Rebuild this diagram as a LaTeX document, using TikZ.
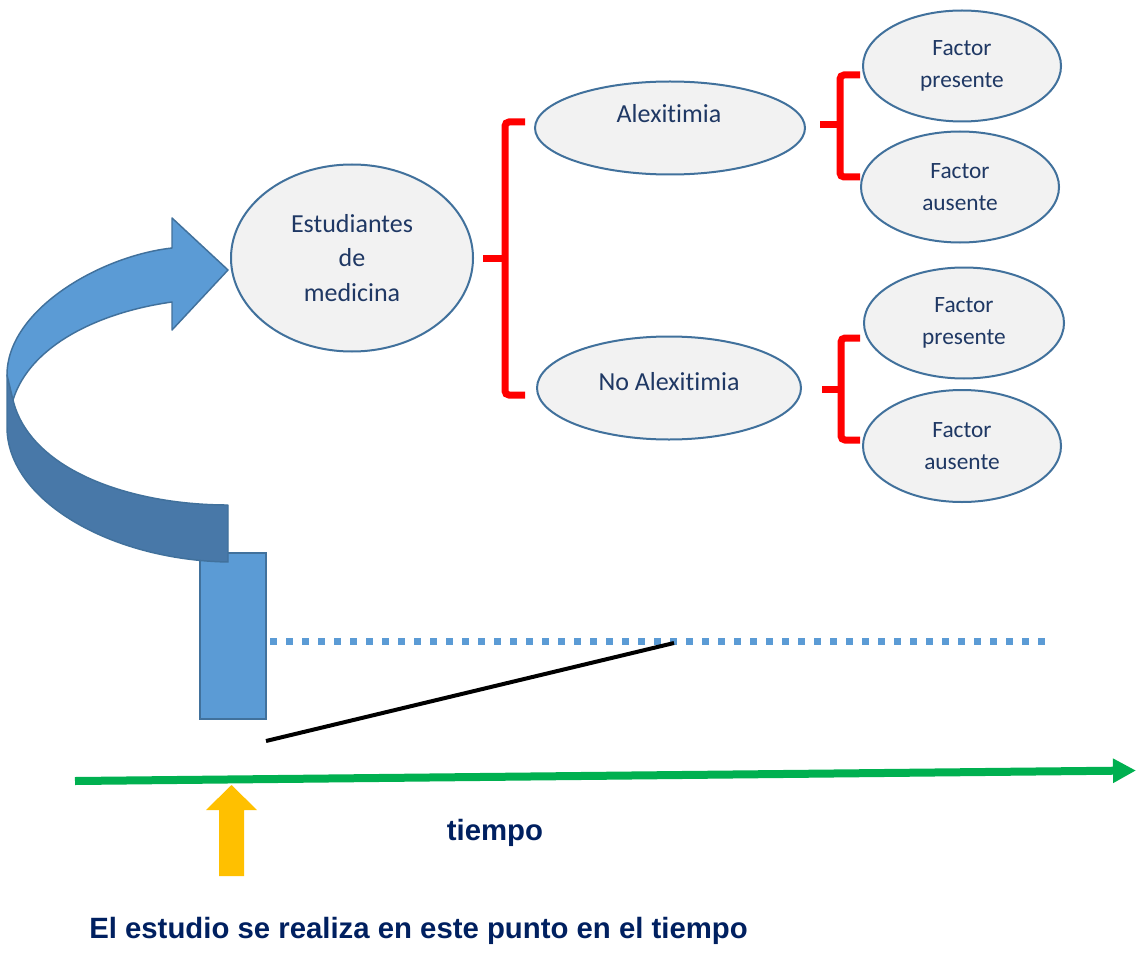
\documentclass[tikz,border=0pt]{standalone}
\usepackage{fontspec}
\setmainfont{Carlito}[Ligatures={NoCommon,NoRequired,NoContextual}]
\newfontfamily\arialfont{Liberation Sans}
\usetikzlibrary{shapes.geometric,arrows.meta}
\definecolor{ellfill}{HTML}{F2F2F2}
\definecolor{ellline}{HTML}{41719C}
\definecolor{navy}{HTML}{1F3864}
\definecolor{lightblue}{HTML}{5B9BD5}
\definecolor{darkblue}{HTML}{4878A8}
\definecolor{bracered}{HTML}{FF0000}
\definecolor{timegreen}{HTML}{00B050}
\definecolor{gold}{HTML}{FFC000}
\definecolor{titlenavy}{HTML}{002060}
\begin{document}
\begin{tikzpicture}[x=0.75pt,y=-0.75pt,
  oval/.style={ellipse, draw=ellline, line width=1.5pt, fill=ellfill, inner sep=0pt},
  ovaltext/.style={text=navy, align=center, inner sep=0pt, font=\fontsize{19.5}{26}\selectfont},
  factortext/.style={text=navy, align=center, inner sep=0pt, font=\fontsize{17.5}{23.5}\selectfont},
  brace/.style={draw=bracered, line width=5.25pt, rounded corners=3pt},
  boldtext/.style={text=titlenavy, inner sep=0pt, font=\arialfont\bfseries\fontsize{22}{26}\selectfont},
  shapeline/.style={draw=ellline, line width=1.1pt, line join=round}
]
\path[use as bounding box, fill=white] (0,0) rectangle (1137,952);

% bar and curved arrow
\node[draw=ellline, line width=1.5pt, fill=lightblue, minimum width=49.5pt, minimum height=124.5pt, inner sep=0pt] (bar) at (233,636) {};
\filldraw[shapeline, fill=darkblue] (7,375) -- (7,427) .. controls (7,500) and (110,560) .. (228,562) -- (228,505) .. controls (130,505) and (30,470) .. (13,400) -- cycle;
\filldraw[shapeline, fill=lightblue] (7,375) .. controls (7,310) and (100,256) .. (172,248) -- (172,218) -- (228,270) -- (172,330) -- (172,302) .. controls (100,312) and (30,345) .. (13,400) -- cycle;

% ellipses
\node[oval, minimum width=181.5pt, minimum height=140.25pt] (stud) at (352,258) {};
\node[ovaltext] (studt) at (stud.center) {Estudiantes\\de\\medicina};
\node[oval, minimum width=202.5pt, minimum height=69.75pt] (alex) at (670,128) {};
\node[ovaltext, anchor=base] (alext) at (669,123) {Alexitimia};
\node[oval, minimum width=198pt, minimum height=77.25pt] (noalex) at (669,388) {};
\node[ovaltext, anchor=base] (noalext) at (669,390) {No Alexitimia};
\node[oval, minimum width=148.5pt, minimum height=83.25pt] (fp1) at (962,66) {};
\node[factortext] (fp1t) at (fp1.center) {Factor\\presente};
\node[oval, minimum width=148.5pt, minimum height=83.25pt] (fa1) at (960,187) {};
\node[factortext] (fa1t) at (fa1.center) {Factor\\ausente};
\node[oval, minimum width=150pt, minimum height=83.25pt] (fp2) at (964,323) {};
\node[factortext] (fp2t) at (fp2.center) {Factor\\presente};
\node[oval, minimum width=148.5pt, minimum height=84pt] (fa2) at (962,446) {};
\node[factortext] (fa2t) at (fa2.center) {Factor\\ausente};

% braces
\draw[brace] (525,122) -- (505,122) -- (505,395) -- (525,395);
\draw[brace] (483,258) -- (505,258);
\draw[brace] (860,75) -- (840,75) -- (840,177) -- (860,177);
\draw[brace] (820,125) -- (840,125);
\draw[brace] (860,338) -- (841,338) -- (841,440) -- (860,440);
\draw[brace] (822,389) -- (841,389);

% time lines
\coordinate (dotstart) at (270,641.5);
\coordinate (dotend) at (1045,641.5);
\draw[lightblue, line width=5.25pt, dash pattern=on 5.25pt off 6.75pt] (dotstart) -- (dotend);
\coordinate (blackstart) at (266,741);
\coordinate (blackend) at (674,643);
\draw[black, line width=3pt] (blackstart) -- (blackend);
\coordinate (greenstart) at (75,781);
\coordinate (greenend) at (1136,770.5);
\draw[timegreen, line width=6pt, -{Triangle[length=17.25pt,width=17.25pt]}] (greenstart) -- (greenend);

% yellow arrow
\fill[gold] (219,876) -- (219,810) -- (206,810) -- (231.5,785) -- (257,810) -- (244,810) -- (244,876) -- cycle;

% texts
\node[boldtext, anchor=base] (tiempo) at (495,840) {tiempo};
\node[boldtext, anchor=base west] (estudio) at (89,938) {El estudio se realiza en este punto en el tiempo};
\end{tikzpicture}
\end{document}
